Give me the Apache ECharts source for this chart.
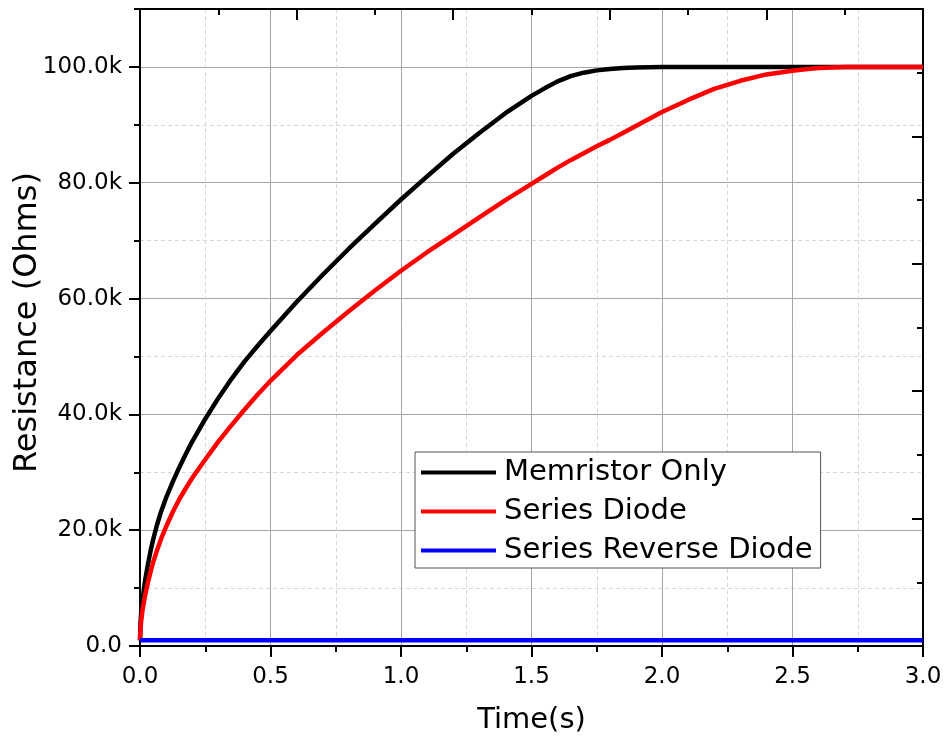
<!DOCTYPE html>
<html>
<head>
<meta charset="utf-8">
<script src="https://cdn.jsdelivr.net/npm/echarts@6/dist/echarts.min.js"></script>
<style>
html,body{margin:0;padding:0;background:#fff;}
#chart{width:948px;height:750px;}
</style>
</head>
<body>
<div id="chart"></div>
<script>
// ---- data (time in s, resistance in ohms) ----
const times = [0, 0.002, 0.005, 0.01, 0.015, 0.02, 0.03, 0.04, 0.05, 0.065, 0.08, 0.1, 0.125, 0.15, 0.175, 0.2, 0.25, 0.3, 0.35, 0.4, 0.45, 0.5, 0.6, 0.7, 0.8, 0.9, 1.0, 1.1, 1.2, 1.3, 1.4, 1.5, 1.55, 1.6, 1.65, 1.7, 1.75, 1.8, 1.85, 1.9, 2.0, 2.1, 2.2, 2.3, 2.4, 2.5, 2.55, 2.6, 2.65, 2.7, 2.8, 2.9, 3.0];
const memristorOnly = [1000, 4000, 6000, 8000, 9800, 11400, 14000, 16300, 18300, 20900, 23100, 25600, 28300, 30800, 33100, 35300, 39200, 42800, 46100, 49100, 51800, 54400, 59400, 64100, 68600, 72900, 77100, 81100, 85000, 88600, 92000, 95000, 96300, 97500, 98400, 99000, 99400, 99650, 99800, 99900, 100000, 100000, 100000, 100000, 100000, 100000, 100000, 100000, 100000, 100000, 100000, 100000, 100000];
const seriesDiode = [1000, 3000, 4500, 6300, 7600, 8800, 10900, 12700, 14400, 16500, 18400, 20600, 23100, 25300, 27200, 29000, 32200, 35300, 38100, 40800, 43400, 45800, 50200, 54100, 57800, 61400, 64800, 68000, 71000, 74000, 77000, 79800, 81200, 82600, 83900, 85100, 86300, 87400, 88600, 89800, 92200, 94300, 96200, 97600, 98700, 99350, 99600, 99800, 99900, 100000, 100000, 100000, 100000];
const reverseTimes = [0, 3.0];
const seriesReverseDiode = [1000, 1000];
const seriesNames = ['Memristor Only', 'Series Diode', 'Series Reverse Diode'];
const xTickLabels = ['0.0', '0.5', '1.0', '1.5', '2.0', '2.5', '3.0'];
const yTickLabels = ['0.0', '20.0k', '40.0k', '60.0k', '80.0k', '100.0k'];

const FONT = 'DejaVu Sans';
const pair = (xs, ys) => xs.map((x, i) => [x, ys[i]]);

const chart = echarts.init(document.getElementById('chart'), null, {renderer: 'canvas'});
const black = '#000';
const majorGrid = '#a6a6a6';
const minorGrid = '#d6d6d6';

chart.setOption({
  animation: false,
  backgroundColor: '#fff',
  grid: {left: 140, right: 25, top: 9, bottom: 104, containLabel: false, outerBoundsMode: 'none'},
  legend: {
    data: seriesNames,
    orient: 'vertical',
    left: 415,
    top: 452,
    backgroundColor: '#fff',
    borderColor: '#555',
    borderWidth: 1,
    borderRadius: 0,
    padding: [6, 8, 3, 6],
    itemGap: 10,
    itemWidth: 75,
    itemHeight: 4,
    icon: 'rect',
    selectedMode: false,
    textStyle: {fontFamily: FONT, fontSize: 29, color: '#000', lineHeight: 29, padding: [0, 0, 0, 3]}
  },
  xAxis: [{
    type: 'value', position: 'bottom', min: 0, max: 3, interval: 0.5,
    name: 'Time(s)', nameLocation: 'middle', nameGap: 60, nameMoveOverlap: false,
    nameTextStyle: {fontFamily: FONT, fontSize: 29, color: '#000'},
    axisLine: {show: true, onZero: false, lineStyle: {color: black, width: 2}},
    axisTick: {show: true, inside: false, length: 11, lineStyle: {color: black, width: 2}},
    minorTick: {show: true, splitNumber: 2, length: 6, lineStyle: {color: black, width: 2}},
    axisLabel: {margin: 20, fontFamily: FONT, fontSize: 23, color: '#000',
      formatter: v => xTickLabels[Math.round(v / 0.5)] ?? ''},
    splitLine: {show: true, lineStyle: {color: majorGrid, width: 1}},
    minorSplitLine: {show: true, lineStyle: {color: minorGrid, width: 1, type: [4, 3]}}
  }, {
    type: 'value', position: 'top', min: 0, max: 5, interval: 1,
    axisLine: {show: true, onZero: false, lineStyle: {color: black, width: 2}},
    axisTick: {show: true, inside: true, length: 11, lineStyle: {color: black, width: 2}},
    minorTick: {show: true, splitNumber: 2, length: 6, lineStyle: {color: black, width: 2}},
    axisLabel: {show: false},
    splitLine: {show: false}
  }],
  yAxis: [{
    type: 'value', position: 'left', min: 0, max: 110000, interval: 10000,
    name: 'Resistance (Ohms)', nameLocation: 'middle', nameGap: 96, nameMoveOverlap: false,
    nameTextStyle: {fontFamily: FONT, fontSize: 32, color: '#000', padding: [0, 0, 0, 10]},
    axisLine: {show: true, onZero: false, lineStyle: {color: black, width: 2}},
    axisTick: {show: true, inside: false, length: 6, lineStyle: {color: black, width: 2}},
    axisLabel: {margin: 18, fontFamily: FONT, fontSize: 23, color: '#000',
      formatter: v => (v % 20000 === 0 && v <= 100000) ? yTickLabels[v / 20000] : ''},
    splitLine: {show: true, lineStyle: {color: minorGrid, width: 1, type: [4, 3]}}
  }, {
    type: 'value', position: 'right', min: 0, max: 5, interval: 1,
    axisLine: {show: true, onZero: false, lineStyle: {color: black, width: 2}},
    axisTick: {show: true, inside: true, length: 11, lineStyle: {color: black, width: 2}},
    minorTick: {show: true, splitNumber: 2, length: 6, lineStyle: {color: black, width: 2}},
    axisLabel: {show: false},
    splitLine: {show: false}
  }, {
    type: 'value', position: 'left', min: 0, max: 110000, interval: 20000,
    axisLine: {show: true, onZero: false, lineStyle: {color: black, width: 2}},
    axisTick: {show: true, inside: false, length: 11, customValues: [0, 20000, 40000, 60000, 80000, 100000], lineStyle: {color: black, width: 2}},
    axisLabel: {show: false},
    splitLine: {show: true, lineStyle: {color: majorGrid, width: 1}}
  }],
  series: [{
    name: seriesNames[0], type: 'line', data: pair(times, memristorOnly),
    xAxisIndex: 0, yAxisIndex: 0, showSymbol: false, symbol: 'none', smooth: false,
    lineStyle: {color: '#000', width: 4.5, join: 'round'}, itemStyle: {color: '#000'}, z: 3
  }, {
    name: seriesNames[1], type: 'line', data: pair(times, seriesDiode),
    xAxisIndex: 0, yAxisIndex: 0, showSymbol: false, symbol: 'none', smooth: false,
    lineStyle: {color: '#ff0000', width: 4.5, join: 'round'}, itemStyle: {color: '#ff0000'}, z: 4
  }, {
    name: seriesNames[2], type: 'line', data: pair(reverseTimes, seriesReverseDiode),
    xAxisIndex: 0, yAxisIndex: 0, showSymbol: false, symbol: 'none',
    lineStyle: {color: '#0000ff', width: 4.5}, itemStyle: {color: '#0000ff'}, z: 5
  }]
});
</script>
</body>
</html>
